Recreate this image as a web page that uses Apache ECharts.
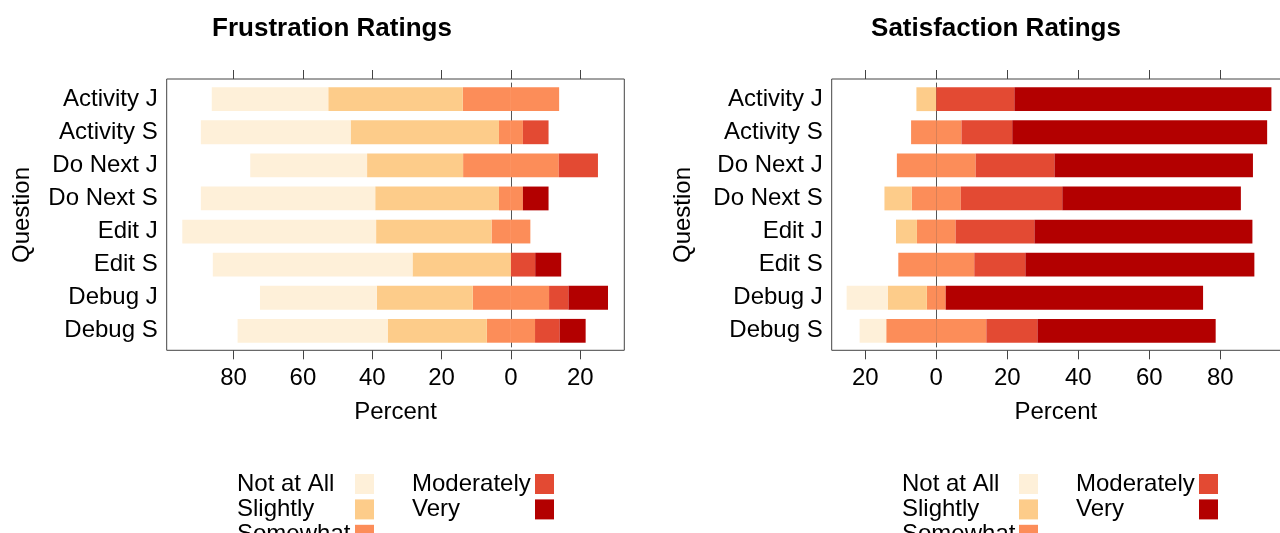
<!DOCTYPE html>
<html>
<head>
<meta charset="utf-8">
<title>Frustration and Satisfaction Ratings</title>
<script src="https://cdn.jsdelivr.net/npm/echarts@6/dist/echarts.min.js"></script>
<style>
  html, body { margin: 0; padding: 0; background: #fff; }
  #chart { width: 1280px; height: 533px; }
</style>
</head>
<body>
<div id="chart"></div>
<script>
  // questions, top to bottom
  const questions = ['Activity J', 'Activity S', 'Do Next J', 'Do Next S', 'Edit J', 'Edit S', 'Debug J', 'Debug S']
  const levels = ['Not at All', 'Slightly', 'Somewhat', 'Moderately', 'Very']
  const levelColors = ['#FEF0D9', '#FDCC8A', '#FC8D59', '#E34A33', '#B30000']

  // Frustration ratings (percent)
  const frNotAtAll = [33.6, 43.2, 33.7, 50.3, 55.9, 57.6, 33.7, 43.3]
  const frSlightly = [38.8, 42.8, 27.7, 35.7, 33.3, 28.4, 27.7, 28.6]
  const frSomewhat = [27.8, 6.9, 27.6, 6.9, 11.2, 0, 22.0, 13.9]
  const frModerately = [0, 7.4, 11.3, 0, 0, 7.0, 5.6, 7.1]
  const frVery = [0, 0, 0, 7.4, 0, 7.5, 11.4, 7.5]

  // Satisfaction ratings (percent)
  const saNotAtAll = [0, 0, 0, 0, 0, 0, 11.6, 7.5]
  const saSlightly = [5.6, 0, 0, 7.7, 5.9, 0, 11.0, 0]
  const saSomewhat = [0, 14.2, 22.2, 13.8, 10.9, 21.4, 5.3, 28.2]
  const saModerately = [22.0, 14.3, 22.2, 28.6, 22.2, 14.4, 0, 14.4]
  const saVery = [72.4, 71.8, 55.9, 50.3, 61.4, 64.5, 72.5, 50.2]

  // tick labels (shown as absolute values)
  const frTicks = [-80, -60, -40, -20, 0, 20]
  const saTicks = [-20, 0, 20, 40, 60, 80]

  const fontFamily = '"Liberation Sans", Arial, sans-serif'
  const frameColor = '#444'

  // panel layout: plot frame in pixels, axis range
  // the right panel's frame runs past the page edge, so its grid stops at 1280
  const panels = [
    { title: 'Frustration Ratings', titleX: 332, left: 166.7, width: 457.6, frameWidth: 457.6, min: -99.3, max: 32.7,
      ticks: frTicks, nameGap: 132, data: [frNotAtAll, frSlightly, frSomewhat, frModerately, frVery] },
    { title: 'Satisfaction Ratings', titleX: 996, left: 831.7, width: 448.3, frameWidth: 458.3, min: -29.46, max: 96.82,
      ticks: saTicks, nameGap: 136, data: [saNotAtAll, saSlightly, saSomewhat, saModerately, saVery] },
  ]
  const frameTop = 79
  const frameHeight = 271.3
  const gridTop = 82.65
  const gridHeight = 264.7

  const chart = echarts.init(document.getElementById('chart'), null, { renderer: 'canvas' })

  const grid = []
  const xAxis = []
  const yAxis = []
  const series = []
  const title = []
  const graphic = []

  panels.forEach((p, i) => {
    title.push({
      text: p.title,
      left: p.titleX,
      top: 16,
      textAlign: 'center',
      padding: 0,
      textStyle: { fontFamily, fontSize: 26, fontWeight: 'bold', color: '#000' },
    })
    grid.push({ left: p.left, width: p.width, top: gridTop, height: gridHeight })
    // bottom axis with labels
    xAxis.push({
      type: 'value',
      gridIndex: i,
      position: 'bottom',
      offset: frameTop + frameHeight - (gridTop + gridHeight),
      min: p.min,
      max: p.max,
      name: 'Percent',
      nameLocation: 'middle',
      nameGap: 50,
      nameTextStyle: { fontFamily, fontSize: 24, color: '#000' },
      axisLine: { show: false },
      axisTick: { show: true, length: 9, customValues: p.ticks, lineStyle: { color: frameColor } },
      axisLabel: {
        customValues: p.ticks,
        margin: 16,
        fontFamily,
        fontSize: 24,
        color: '#000',
        formatter: v => String(Math.abs(v)),
      },
      splitLine: { show: false },
    })
    // top axis, ticks only
    xAxis.push({
      type: 'value',
      gridIndex: i,
      position: 'top',
      offset: gridTop - frameTop,
      min: p.min,
      max: p.max,
      axisLine: { show: false },
      axisTick: { show: true, length: 9, customValues: p.ticks, lineStyle: { color: frameColor } },
      axisLabel: { show: false },
      splitLine: { show: false },
    })
    // hidden axis that only draws the zero reference line behind the bars
    xAxis.push({
      type: 'value',
      gridIndex: i,
      position: 'top',
      zlevel: 0,
      z: 0,
      min: p.min,
      max: p.max,
      axisLine: { show: false },
      axisTick: { show: false, customValues: [0] },
      axisLabel: { show: false, customValues: [0] },
      splitLine: { show: true, lineStyle: { color: '#555', width: 1 } },
    })
    yAxis.push({
      type: 'category',
      gridIndex: i,
      inverse: true,
      data: questions,
      name: 'Question',
      nameLocation: 'middle',
      nameRotate: 90,
      nameGap: p.nameGap,
      nameTextStyle: { fontFamily, fontSize: 24, color: '#000' },
      axisLine: { show: false },
      axisTick: { show: false },
      axisLabel: { margin: 9, padding: [5, 0, 0, 0], fontFamily, fontSize: 24, color: '#000' },
      splitLine: { show: false },
    })

    const [notAtAll, slightly, somewhat, moderately, very] = p.data
    const stack = 'panel' + i
    const bar = (name, values, colorIdx) => ({
      name,
      type: 'bar',
      xAxisIndex: i * 3,
      yAxisIndex: i,
      stack,
      zlevel: 1,
      barCategoryGap: '28%',
      itemStyle: { color: levelColors[colorIdx] },
      emphasis: { disabled: true },
      data: values,
    })
    // negative side (closest to zero first), then positive side
    series.push(bar('Somewhat', somewhat.map(v => -v / 2), 2))
    series.push(bar('Slightly', slightly.map(v => -v), 1))
    series.push(bar('Not at All', notAtAll.map(v => -v), 0))
    series.push(bar('Somewhat', somewhat.map(v => v / 2), 2))
    series.push(bar('Moderately', moderately, 3))
    series.push(bar('Very', very, 4))

    // plot frame
    graphic.push({
      type: 'rect',
      silent: true,
      zlevel: 1,
      z: 10,
      shape: { x: p.left, y: frameTop, width: p.frameWidth, height: frameHeight },
      style: { fill: 'none', stroke: frameColor, lineWidth: 1 },
    })
  })

  const legendBase = {
    orient: 'vertical',
    align: 'right',
    padding: 0,
    itemWidth: 19,
    itemHeight: 20,
    itemGap: 1.4,
    icon: 'rect',
    top: 472,
    height: 120,
    selectedMode: false,
  }
  // fixed-width, left-aligned text so the keys line up in a column
  const legendRich = w => ({
    formatter: name => '{t|' + name + '}',
    textStyle: {
      fontFamily, fontSize: 24, lineHeight: 20, color: '#000',
      rich: { t: { fontFamily, fontSize: 24, lineHeight: 20, color: '#000', width: w, align: 'left' } },
    },
  })
  const legend = [
    { ...legendBase, left: 237, data: levels.slice(0, 3), ...legendRich(113) },
    { ...legendBase, left: 412, data: levels.slice(3), ...legendRich(118) },
    { ...legendBase, left: 902, data: levels.slice(0, 3), ...legendRich(112) },
    { ...legendBase, left: 1076, data: levels.slice(3), ...legendRich(118) },
  ]

  const option = {
    animation: false,
    backgroundColor: '#fff',
    title,
    grid,
    xAxis,
    yAxis,
    legend,
    series,
    graphic,
  }
  chart.setOption(option)
</script>
</body>
</html>
